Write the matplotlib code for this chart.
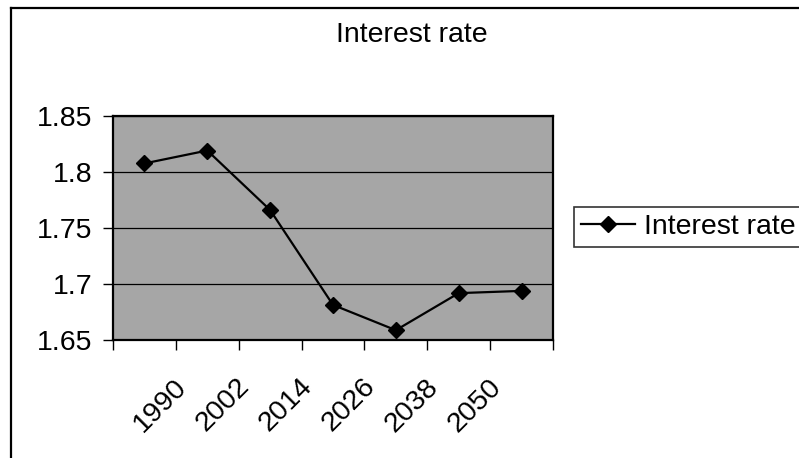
import matplotlib.pyplot as plt
from matplotlib.lines import Line2D
import numpy as np

plt.rcParams['font.family'] = ['Liberation Sans', 'DejaVu Sans']

# data
rate = [1.8075, 1.819, 1.766, 1.6815, 1.659, 1.692, 1.694]
year_labels = ['1990', '2002', '2014', '2026', '2038', '2050']
series_name = 'Interest rate'

x = np.arange(len(rate))
fs = 20.5

fig = plt.figure(figsize=(7.99, 4.58), dpi=100)
ax = fig.add_axes([113/799, 1 - 340.3/458, 440/799, 224.6/458])

ax.set_facecolor('#a6a6a6')
ax.plot(x, rate, color='black', lw=1.6, marker='D', markersize=8.5,
        markerfacecolor='black', markeredgecolor='black', label=series_name)

ax.set_xlim(-0.5, len(rate) - 0.5)
ax.set_ylim(1.65, 1.85)
ax.set_yticks([1.65, 1.7, 1.75, 1.8, 1.85])
ax.set_yticklabels(['1.65', '1.7', '1.75', '1.8', '1.85'])
ax.yaxis.grid(True, color='black', lw=0.9)
ax.set_axisbelow(True)

# tick marks on category boundaries, labels placed separately
ax.set_xticks(np.arange(-0.5, len(rate), 1.0))
ax.set_xticklabels([])
ax.set_xticks(np.arange(len(year_labels)) + 0.76, minor=True)
ax.set_xticklabels(year_labels, minor=True, rotation=45, ha='right')
ax.tick_params(axis='x', which='minor', length=0, pad=24, labelsize=fs)
ax.tick_params(axis='x', which='major', length=7, width=1, direction='out')
ax.tick_params(axis='y', length=7, width=1, pad=8, labelsize=fs)

for s in ax.spines.values():
    s.set_linewidth(1.6)
    s.set_color('black')

fig.text(412/799, 1 - 35/458, 'Interest rate', ha='center', va='center', fontsize=fs)

leg = ax.legend(loc='center left', bbox_to_anchor=(574/799, 1 - 227/458),
                bbox_transform=fig.transFigure, fontsize=fs, frameon=True,
                fancybox=False, edgecolor='black', borderpad=0.25,
                handlelength=1.9, handletextpad=0.3, borderaxespad=0)
leg.get_frame().set_linewidth(1.2)

# chart area border (left and top edges)
fig.add_artist(Line2D([10.5/799, 10.5/799], [0, 1 - 8/458], color='black', lw=1.6,
                      transform=fig.transFigure))
fig.add_artist(Line2D([10.5/799, 1], [1 - 8/458, 1 - 8/458], color='black', lw=1.6,
                      transform=fig.transFigure))

fig.savefig('out.png', dpi=100)
